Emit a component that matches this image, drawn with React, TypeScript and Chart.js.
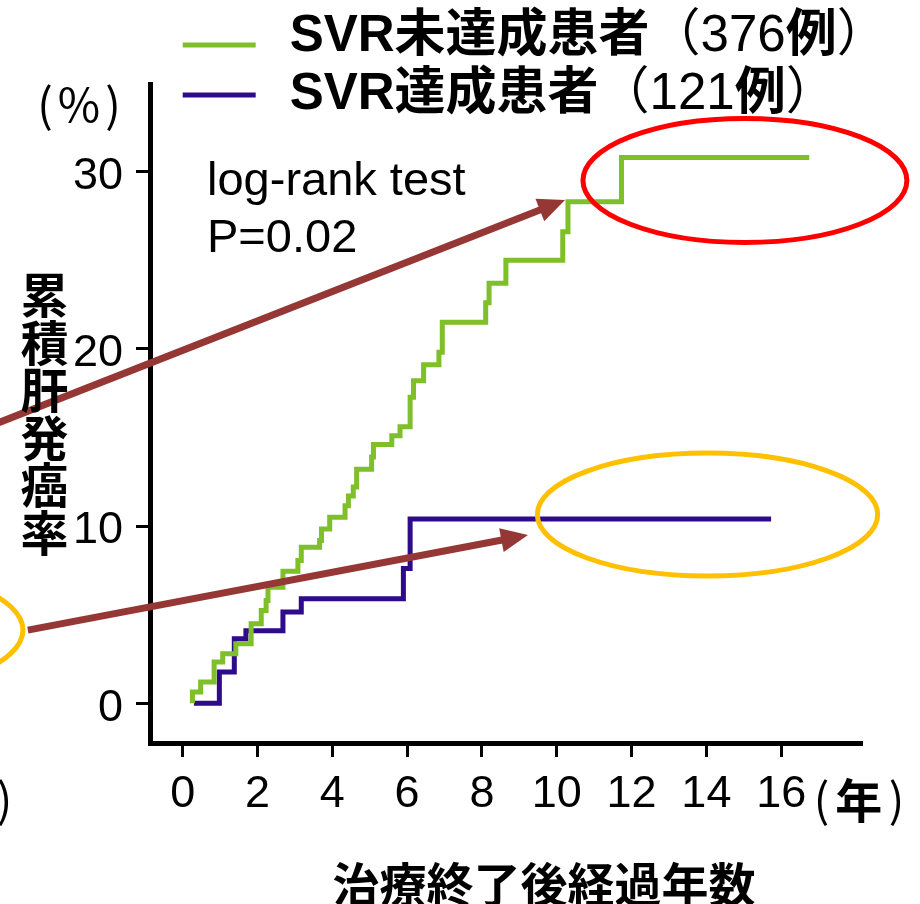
import React, { useEffect, useRef } from 'react';
import { Chart, registerables } from 'chart.js';

Chart.register(...registerables);

// ---- data ----
const SERIES_LABELS = ['SVR未達成患者', 'SVR達成患者'];
const SERIES_COUNTS = ['376', '121'];
const SERIES_COLORS = ['#7fbf2a', '#2e0a8c'];

const NON_SVR_YEARS = [0.26, 0.26, 0.48, 0.84, 1.07, 1.42, 1.83, 2.1, 2.23, 2.28, 2.68, 3.08, 3.17, 3.66, 3.71, 3.93, 4.34, 4.43, 4.56, 4.65, 5.05, 5.1, 5.59, 5.81, 6.08, 6.17, 6.44, 6.85, 6.94, 8.1, 8.19, 8.64, 10.16, 10.3, 11.73, 16.75];
const NON_SVR_RATE = [0, 0.64, 1.2, 2.33, 2.8, 3.36, 4.49, 5.24, 5.8, 6.55, 7.45, 8.06, 8.8, 9.18, 9.84, 10.5, 11.15, 11.7, 12.2, 13.2, 13.9, 14.6, 15.1, 15.6, 17.26, 18.2, 19.1, 19.8, 21.5, 22.6, 23.7, 25.0, 26.6, 28.3, 30.8, 30.8];

const SVR_YEARS = [0.3, 0.98, 1.38, 1.69, 2.68, 3.17, 5.9, 6.08, 15.73];
const SVR_RATE = [0, 1.77, 3.64, 4.1, 5.15, 5.9, 7.6, 10.4, 10.4];

const X_TICKS = [0, 2, 4, 6, 8, 10, 12, 14, 16];
const Y_TICKS = [0, 10, 20, 30];
const X_RANGE = [-0.874, 18.16];
const Y_RANGE = [-2.24, 34.94];

const X_TITLE = '治療終了後経過年数';
const Y_TITLE = '累積肝発癌率';
const X_UNIT = ['(', '年', ')'];
const Y_UNIT = ['(', '%', ')'];
const NOTE_LINES = ['log-rank test', 'P=0.02'];
const NOTE_POS = [0.65, 28.67, 25.47]; // x, baseline1, baseline2 (data units)

// annotation shapes in data units
const ARROW_FROM_X = [-5.02, -4.14];
const ARROW_FROM_Y = [15.75, 4.13];
const ARROW_TO_X = [10.22, 9.23];
const ARROW_TO_Y = [28.39, 9.49];
const ELLIPSE_CX = [15.03, 14.03, -8.68];
const ELLIPSE_CY = [29.5, 10.65, 4.13];
const ELLIPSE_RX = [4.33, 4.55, 4.41];
const ELLIPSE_RY = [3.5, 3.47, 3.5];
const ELLIPSE_COLORS = ['#ff0000', '#ffc000', '#ffc000'];

const LATIN = "'Liberation Sans', Arial, 'Noto Sans CJK JP', sans-serif";
const CJK = "'Noto Sans CJK JP', 'Liberation Sans', sans-serif";

const toPoints = (xs: number[], ys: number[]) => xs.map((x, i) => ({ x, y: ys[i] }));

const overlayPlugin = {
  id: 'overlay',
  afterDraw(chart: any) {
    const ctx: CanvasRenderingContext2D = chart.ctx;
    const sx = chart.scales.x;
    const sy = chart.scales.y;
    const px = (v: number) => sx.getPixelForValue(v);
    const py = (v: number) => sy.getPixelForValue(v);
    const ca = chart.chartArea;
    ctx.save();

    // ellipses
    ELLIPSE_CX.forEach((cx, i) => {
      ctx.beginPath();
      ctx.ellipse(px(cx), py(ELLIPSE_CY[i]), Math.abs(px(ELLIPSE_RX[i]) - px(0)), Math.abs(py(ELLIPSE_RY[i]) - py(0)), 0, 0, Math.PI * 2);
      ctx.strokeStyle = ELLIPSE_COLORS[i];
      ctx.lineWidth = 5;
      ctx.stroke();
    });

    // arrows
    ARROW_FROM_X.forEach((fx, i) => {
      const x1 = px(fx), y1 = py(ARROW_FROM_Y[i]);
      const x2 = px(ARROW_TO_X[i]), y2 = py(ARROW_TO_Y[i]);
      const ang = Math.atan2(y2 - y1, x2 - x1);
      const headLen = 27, headHalf = 12;
      const bx = x2 - headLen * Math.cos(ang), by = y2 - headLen * Math.sin(ang);
      ctx.strokeStyle = '#953735';
      ctx.fillStyle = '#953735';
      ctx.lineWidth = 7;
      ctx.lineCap = 'butt';
      ctx.beginPath();
      ctx.moveTo(x1, y1);
      ctx.lineTo(bx + 2 * Math.cos(ang), by + 2 * Math.sin(ang));
      ctx.stroke();
      ctx.beginPath();
      ctx.moveTo(x2, y2);
      ctx.lineTo(bx - headHalf * Math.sin(ang), by + headHalf * Math.cos(ang));
      ctx.lineTo(bx + headHalf * Math.sin(ang), by - headHalf * Math.cos(ang));
      ctx.closePath();
      ctx.fill();
    });

    ctx.fillStyle = '#000';

    // note text
    ctx.textAlign = 'left';
    ctx.textBaseline = 'alphabetic';
    ctx.font = `47px ${LATIN}`;
    ctx.fillText(NOTE_LINES[0], px(NOTE_POS[0]), py(NOTE_POS[1]));
    ctx.fillText(NOTE_LINES[1], px(NOTE_POS[0]), py(NOTE_POS[2]));

    // legend
    const legX = px(0);
    const legRows = [37, 95];
    const lineY = [45, 95];
    chart.data.datasets.forEach((ds: any, i: number) => {
      ctx.strokeStyle = ds.borderColor;
      ctx.lineWidth = 5;
      ctx.beginPath();
      ctx.moveTo(legX, lineY[i]);
      ctx.lineTo(legX + 73, lineY[i]);
      ctx.stroke();
      const segs: [string, boolean][] = [
        [SERIES_LABELS[i], true],
        ['（' + SERIES_COUNTS[i], false],
        ['例', true],
        ['）', false],
      ];
      let x = legX + 107;
      ctx.textBaseline = 'middle';
      ctx.textAlign = 'left';
      for (const [t, b] of segs) {
        ctx.font = `${b ? 'bold ' : ''}51px ${LATIN}`;
        ctx.fillText(t, x, legRows[i]);
        x += ctx.measureText(t).width;
      }
    });

    // y unit "(%)"
    ctx.textAlign = 'center';
    ctx.textBaseline = 'middle';
    const yuY = ca.top + 21;
    ctx.font = `46px ${CJK}`;
    ctx.fillText(Y_UNIT[0], ca.left - 105, yuY);
    ctx.fillText(Y_UNIT[1], ca.left - 71, yuY);
    ctx.fillText(Y_UNIT[2], ca.left - 37, yuY);

    // x unit "(年)" right of last tick label, and a clipped copy at the left edge
    const xuY = ca.bottom + 57;
    const drawXUnit = (cx: number) => {
      ctx.font = `46px ${CJK}`;
      ctx.fillText(X_UNIT[0], cx - 37, xuY);
      ctx.font = `bold 47px ${CJK}`;
      ctx.fillText(X_UNIT[1], cx, xuY);
      ctx.font = `46px ${CJK}`;
      ctx.fillText(X_UNIT[2], cx + 38, xuY);
    };
    drawXUnit(px(18.07));
    drawXUnit(px(-5.78));

    // y title: stacked vertical characters
    ctx.font = `bold 48px ${CJK}`;
    const chars = Array.from(Y_TITLE);
    const titleTop = py(22.7) - 6;
    chars.forEach((c, i) => {
      ctx.fillText(c, ca.left - 105.5, titleTop + i * 47.5);
    });

    // x title
    ctx.font = `bold 47px ${CJK}`;
    ctx.fillText(X_TITLE, (ca.left + ca.right) / 2 + 38, ca.bottom + 141);

    ctx.restore();
  },
};

export default function App() {
  const ref = useRef<HTMLCanvasElement | null>(null);

  useEffect(() => {
    document.body.style.margin = '0';
    const canvas = ref.current;
    if (!canvas) return;
    const tickFont = { family: LATIN, size: 45 };
    const chart = new Chart(canvas, {
      type: 'line',
      data: {
        datasets: [
          {
            label: SERIES_LABELS[0],
            data: toPoints(NON_SVR_YEARS, NON_SVR_RATE),
            borderColor: SERIES_COLORS[0],
            borderWidth: 5,
            stepped: true,
            pointRadius: 0,
            fill: false,
          },
          {
            label: SERIES_LABELS[1],
            data: toPoints(SVR_YEARS, SVR_RATE),
            borderColor: SERIES_COLORS[1],
            borderWidth: 5,
            stepped: true,
            pointRadius: 0,
            fill: false,
          },
        ],
      },
      options: {
        animation: false,
        responsive: false,
        maintainAspectRatio: false,
        layout: { padding: { left: 0, top: 84, right: 58, bottom: 0 } },
        plugins: { legend: { display: false }, tooltip: { enabled: false }, title: { display: false } },
        scales: {
          x: {
            type: 'linear',
            min: X_RANGE[0],
            max: X_RANGE[1],
            afterBuildTicks: (s: any) => {
              s.ticks = X_TICKS.map((v) => ({ value: v }));
            },
            afterFit: (s: any) => {
              s.height = 161;
            },
            grid: { drawOnChartArea: false, drawTicks: true, tickLength: 14, tickWidth: 3, tickColor: '#000' },
            border: { display: true, width: 5, color: '#000' },
            ticks: { font: tickFont, color: '#000', padding: 11, maxRotation: 0, autoSkip: false },
          },
          y: {
            type: 'linear',
            min: Y_RANGE[0],
            max: Y_RANGE[1],
            afterBuildTicks: (s: any) => {
              s.ticks = Y_TICKS.map((v) => ({ value: v }));
            },
            afterFit: (s: any) => {
              s.width = 150;
            },
            grid: { drawOnChartArea: false, drawTicks: true, tickLength: 14, tickWidth: 3, tickColor: '#000' },
            border: { display: true, width: 5, color: '#000' },
            ticks: { font: tickFont, color: '#000', padding: 13, autoSkip: false, labelOffset: 5 },
          },
        },
      },
      plugins: [overlayPlugin],
    } as any);
    return () => chart.destroy();
  }, []);

  return (
    <div style={{ width: 920, height: 904 }}>
      <canvas ref={ref} width={920} height={904} style={{ display: 'block', width: 920, height: 904 }} />
    </div>
  );
}
